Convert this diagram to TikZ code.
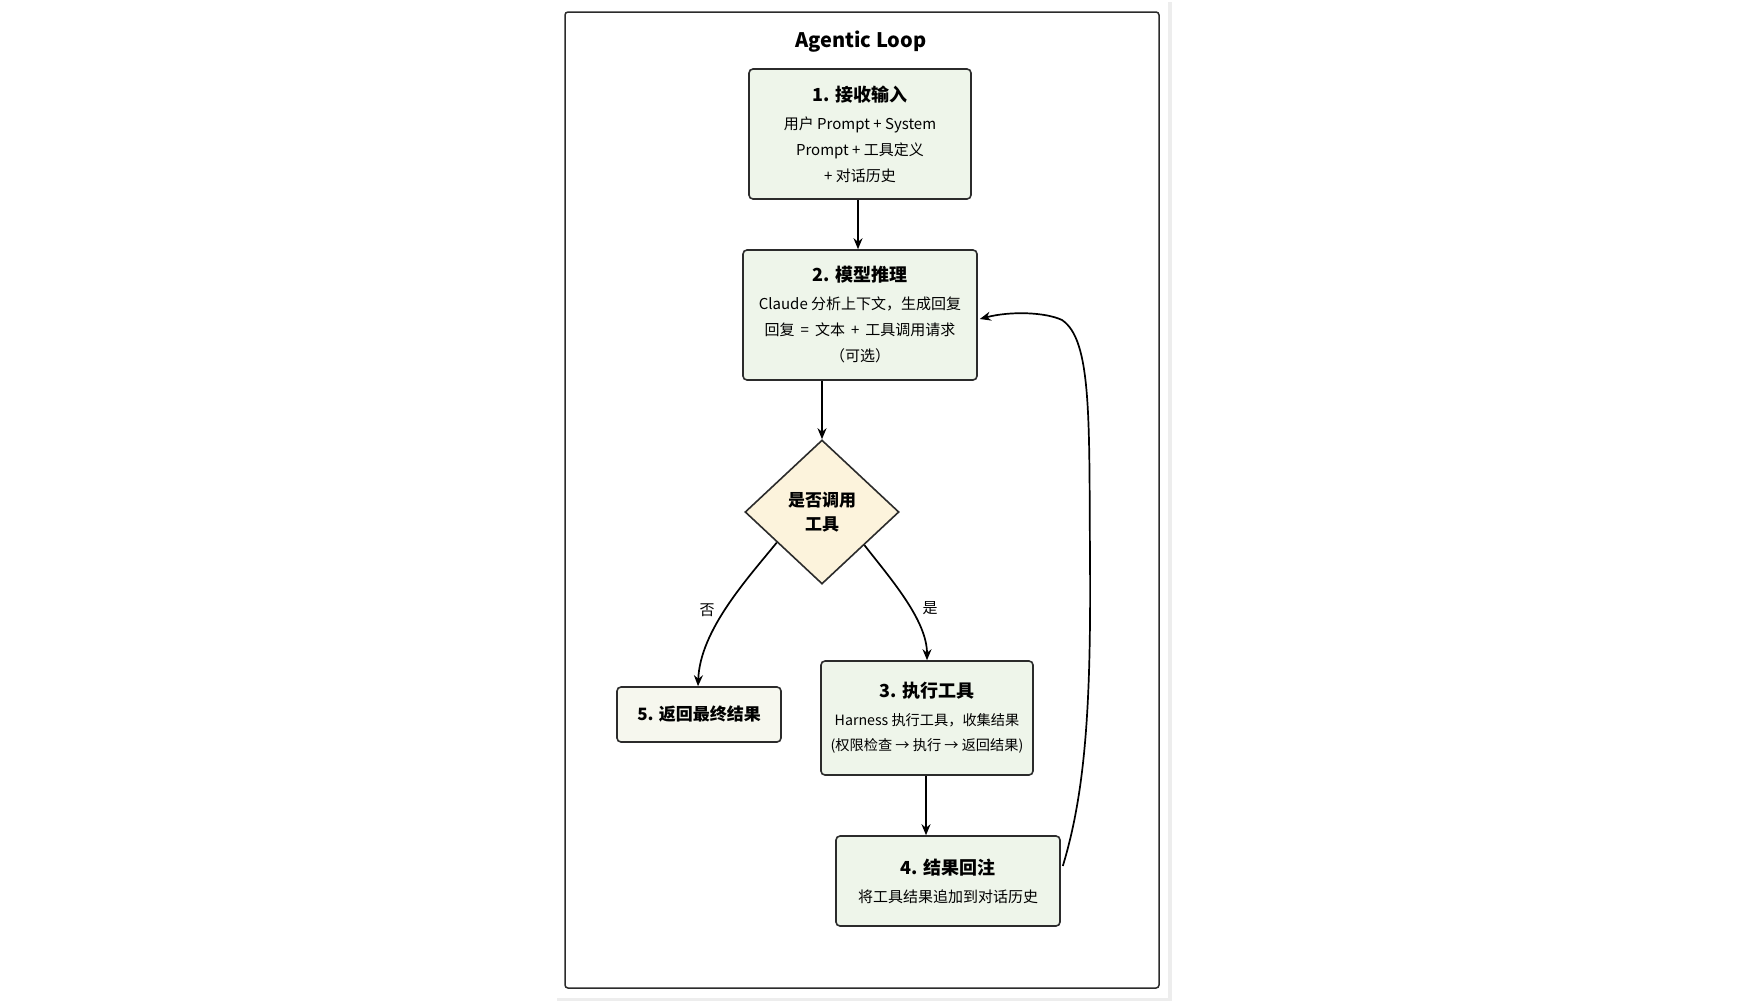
\documentclass[tikz,border=0pt]{standalone}
\usepackage{fontspec}
\setmainfont{Noto Sans CJK SC}
\usetikzlibrary{shapes.geometric,arrows.meta,calc}
\definecolor{linec}{HTML}{2B2B2B}
\definecolor{boxgreen}{HTML}{EEF5EA}
\definecolor{boxpale}{HTML}{F6F7EE}
\definecolor{dmdfill}{HTML}{FCF3DC}
\definecolor{shadowc}{HTML}{EDEDED}
\newcommand{\ttlfont}{\fontsize{18}{28}\selectfont\bfseries}
\newcommand{\wsp}{\hspace{6pt}}
\begin{document}
\begin{tikzpicture}[x=1pt,y=-1pt,
  box/.style={draw=linec, line width=1.6pt, rounded corners=4pt, fill=boxgreen,
    align=center, inner sep=0pt, font=\fontsize{15}{26}\selectfont},
  arr/.style={draw=black, line width=1.7pt, -{Stealth[length=11pt,width=9pt]}},
  lbl/.style={font=\fontsize{15}{18}\selectfont, inner sep=1pt}]
\useasboundingbox (0,0) rectangle (1744,1002);
\fill[white] (0,0) rectangle (1744,1002);
% card
\fill[shadowc] (557,2) rectangle (1172,1001);
\fill[white] (555,0) rectangle (1168,998);
\draw[linec, line width=1.5pt, rounded corners=3pt] (565,12) rectangle (1159,988);
\node[font=\fontsize{20}{24}\selectfont\bfseries] (title) at (861,42) {Agentic Loop};
% boxes
\node[box, minimum width=222, minimum height=130] (b1) at (860,134)
  {{\ttlfont 1. 接收输入}\\[2pt] 用户 Prompt + System\\ Prompt + 工具定义\\ + 对话历史};
\node[box, minimum width=234, minimum height=130] (b2) at (860,315)
  {{\ttlfont 2. 模型推理}\\[2pt] Claude 分析上下文，生成回复\\ 回复\wsp{}=\wsp{}文本\wsp{}+\wsp{}工具调用请求\\ （可选）};
\node[shape=diamond, draw=linec, line width=1.6pt, fill=dmdfill, inner sep=0pt,
  minimum width=154, minimum height=144, align=center,
  font=\fontsize{17}{24}\selectfont\bfseries] (d) at (822,512) {是否调用\\工具};
\node[box, fill=boxpale, minimum width=164, minimum height=55,
  font=\fontsize{17}{20}\selectfont\bfseries] (b5) at (699,714.5) {5. 返回最终结果};
\node[box, minimum width=212, minimum height=114, font=\fontsize{14.2}{25}\selectfont] (b3) at (927,718)
  {{\ttlfont 3. 执行工具}\\[3pt] Harness 执行工具，收集结果\\ (权限检查 → 执行 → 返回结果)};
\node[box, minimum width=224, minimum height=90] (b4) at (948,881)
  {{\ttlfont 4. 结果回注}\\[2pt] 将工具结果追加到对话历史};
% connectors
\draw[arr] (b1.south -| 858,0) -- (b2.north -| 858,0);
\draw[arr] (b2.south -| d.north) -- (d.north);
\draw[arr] (d.214) .. controls (748,578) and (700,630) .. (b5.north -| 698,0);
\draw[arr] (d.322) .. controls (890,578) and (927,620) .. (b3.north);
\draw[arr] (b3.south -| 926,0) -- (b4.north -| 926,0);
\coordinate (lp) at ($(b4.east)+(2,-15)$);
\coordinate (lq) at ($(b2.east)+(2,4)$);
\draw[arr] (lp) .. controls (1086,790) and (1091,700) .. (1090,560)
  .. controls (1089,420) and (1092,340) .. (1062,320)
  .. controls (1045,312) and (1010,311) .. (lq);
\node[lbl] (no) at (707,610) {否};
\node[lbl] (yes) at (930,608) {是};
\end{tikzpicture}
\end{document}
